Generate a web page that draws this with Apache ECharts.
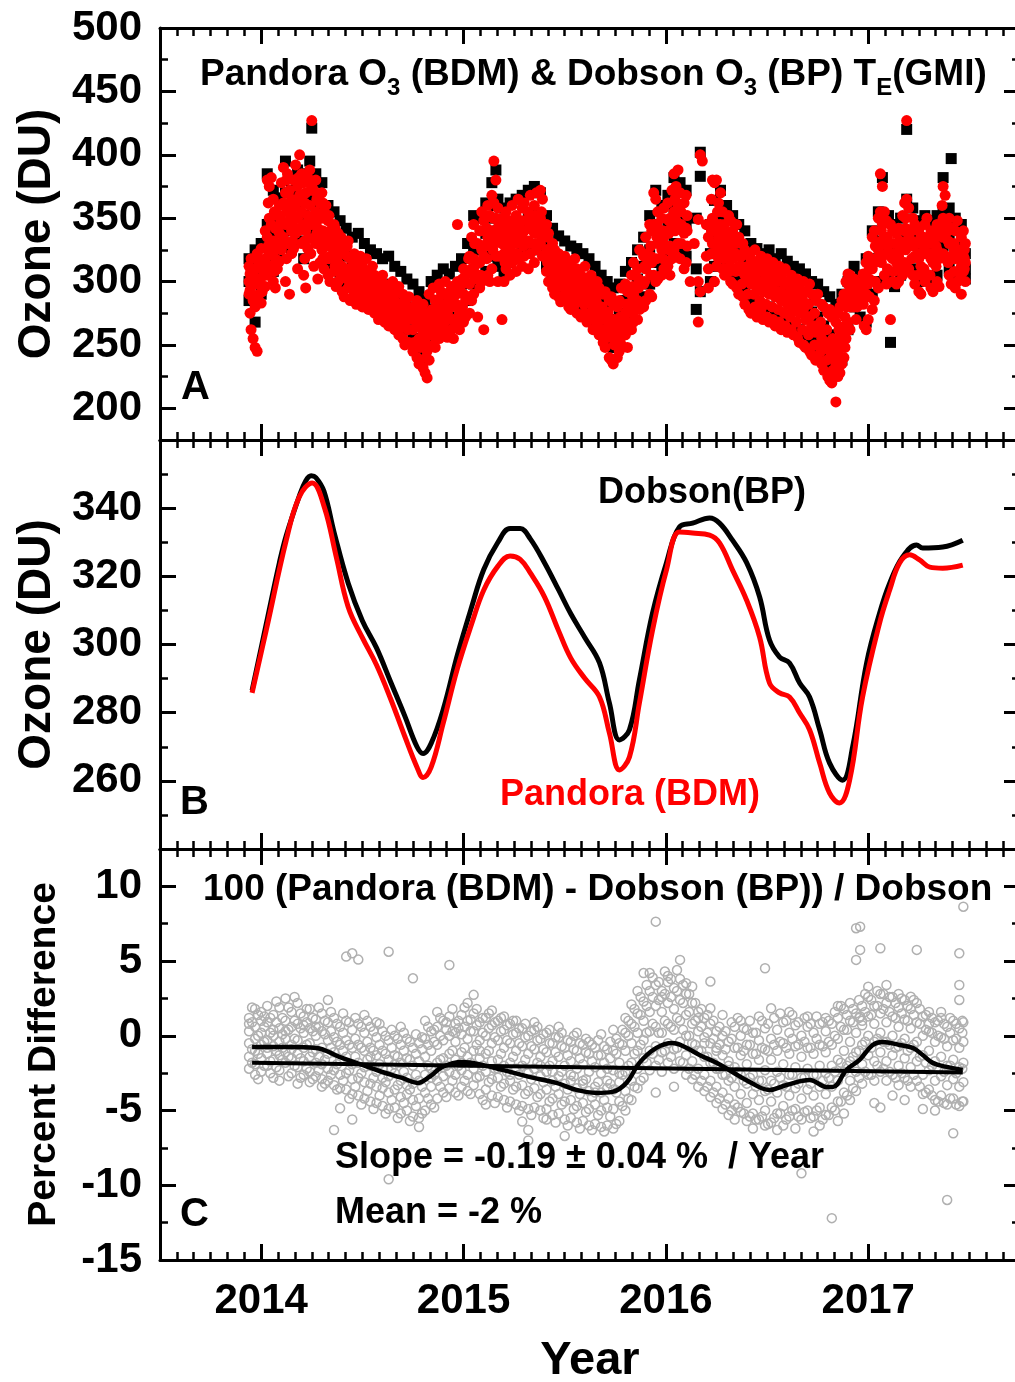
<!DOCTYPE html>
<html>
<head>
<meta charset="utf-8">
<script src="https://cdn.jsdelivr.net/npm/echarts@6/dist/echarts.min.js"></script>
<style>
  html, body { margin: 0; padding: 0; background: #fff; }
  #main { width: 1015px; height: 1382px; }
</style>
</head>
<body>
<div id="main"></div>
<script>
// x axis ticks (years)
var yearTicks = [2014, 2015, 2016, 2017];

// panel A: daily O3, [year, values...]
var pandoraRows = [
  [2013.94, 300, 312, 290], [2013.95, 318, 296, 262], [2013.96, 305, 285, 255], [2013.97, 310, 280, 248],
  [2013.98, 322, 298, 245], [2013.99, 315, 290], [2014.00, 326, 303, 283], [2014.02, 340, 318, 296],
  [2014.03, 380, 335, 305], [2014.04, 375, 350, 322], [2014.05, 382, 345, 312], [2014.06, 365, 332, 300],
  [2014.07, 342, 318, 295], [2014.08, 352, 330, 310], [2014.09, 360, 338, 316], [2014.10, 378, 348, 325],
  [2014.11, 390, 362, 335], [2014.12, 370, 345, 300], [2014.13, 385, 355, 330], [2014.14, 372, 348, 290],
  [2014.15, 365, 340, 322], [2014.16, 380, 352, 326], [2014.17, 392, 360, 338], [2014.18, 375, 350, 310],
  [2014.19, 400, 368, 342], [2014.20, 385, 355, 330], [2014.21, 378, 345, 305], [2014.22, 370, 340, 295],
  [2014.23, 382, 352, 326], [2014.24, 388, 360, 334], [2014.25, 427, 375, 345], [2014.26, 372, 348, 312],
  [2014.27, 380, 355, 330], [2014.28, 368, 342, 302], [2014.29, 362, 336, 315], [2014.30, 370, 350, 325],
  [2014.31, 355, 332, 310], [2014.32, 360, 338, 318], [2014.33, 348, 328, 305], [2014.34, 340, 320, 300],
  [2014.36, 345, 325, 308], [2014.37, 335, 318, 296], [2014.38, 338, 315, 300], [2014.40, 330, 312, 292],
  [2014.41, 325, 305, 288], [2014.43, 332, 310, 295], [2014.44, 318, 300, 285], [2014.46, 322, 305, 290],
  [2014.47, 315, 298, 282], [2014.49, 320, 300, 286], [2014.50, 312, 295, 280], [2014.52, 318, 298, 283],
  [2014.53, 308, 292, 278], [2014.55, 312, 295, 280], [2014.56, 305, 288, 275], [2014.58, 300, 285, 270],
  [2014.60, 305, 290, 276], [2014.61, 298, 282, 268], [2014.63, 295, 280, 265], [2014.65, 300, 283, 268],
  [2014.66, 290, 275, 262], [2014.68, 296, 278, 258], [2014.70, 290, 272, 255], [2014.71, 285, 268, 250],
  [2014.73, 288, 270, 252], [2014.75, 280, 262, 245], [2014.77, 285, 265, 240], [2014.78, 278, 255, 235],
  [2014.80, 282, 260, 232], [2014.81, 275, 250, 228], [2014.82, 270, 245, 224], [2014.83, 290, 265, 238],
  [2014.85, 295, 272, 250], [2014.86, 285, 262, 248], [2014.88, 298, 278, 255], [2014.89, 292, 270, 258],
  [2014.91, 300, 282, 262], [2014.92, 290, 275, 256], [2014.94, 296, 280, 262], [2014.95, 288, 270, 255],
  [2014.97, 345, 300, 280], [2014.98, 295, 275, 262], [2015.00, 310, 290, 268], [2015.01, 305, 285, 272],
  [2015.03, 320, 298, 275], [2015.04, 335, 310, 285], [2015.05, 345, 318, 290], [2015.07, 330, 305, 272],
  [2015.08, 340, 315, 295], [2015.09, 355, 325, 300], [2015.10, 348, 320, 262], [2015.12, 360, 335, 305],
  [2015.13, 352, 328, 300], [2015.14, 368, 340, 310], [2015.15, 395, 362, 330], [2015.16, 380, 350, 320],
  [2015.17, 358, 332, 300], [2015.19, 350, 330, 270], [2015.20, 345, 322, 300], [2015.21, 355, 335, 310],
  [2015.23, 348, 325, 305], [2015.24, 360, 338, 315], [2015.26, 352, 330, 308], [2015.27, 365, 340, 318],
  [2015.29, 358, 335, 312], [2015.30, 362, 340, 320], [2015.32, 355, 332, 310], [2015.33, 368, 345, 322],
  [2015.35, 360, 338, 315], [2015.36, 370, 348, 325], [2015.38, 372, 350, 330], [2015.39, 365, 342, 320],
  [2015.41, 345, 325, 308], [2015.42, 338, 318, 300], [2015.44, 330, 312, 295], [2015.45, 325, 308, 290],
  [2015.47, 322, 305, 288], [2015.48, 318, 300, 284], [2015.50, 320, 302, 285], [2015.52, 315, 298, 280],
  [2015.53, 312, 295, 278], [2015.55, 318, 298, 282], [2015.56, 310, 292, 275], [2015.58, 305, 288, 272],
  [2015.60, 312, 292, 275], [2015.61, 300, 285, 268], [2015.63, 305, 286, 270], [2015.64, 298, 280, 262],
  [2015.66, 300, 282, 265], [2015.67, 295, 275, 258], [2015.69, 290, 270, 252], [2015.70, 292, 272, 248],
  [2015.72, 285, 265, 240], [2015.73, 288, 262, 238], [2015.74, 282, 258, 235], [2015.76, 280, 255, 240],
  [2015.77, 285, 262, 245], [2015.78, 295, 270, 250], [2015.80, 298, 275, 258], [2015.81, 292, 268, 248],
  [2015.83, 305, 282, 262], [2015.84, 315, 290, 268], [2015.86, 310, 285, 270], [2015.87, 325, 300, 278],
  [2015.89, 320, 298, 280], [2015.90, 335, 310, 285], [2015.92, 345, 318, 290], [2015.93, 340, 315, 288],
  [2015.94, 370, 345, 305], [2015.95, 365, 338, 300], [2015.96, 355, 330, 302], [2015.98, 350, 325, 305],
  [2015.99, 358, 335, 310], [2016.01, 362, 340, 312], [2016.02, 350, 328, 305], [2016.03, 372, 345, 318],
  [2016.04, 385, 355, 325], [2016.05, 375, 348, 320], [2016.06, 388, 360, 330], [2016.07, 370, 345, 318],
  [2016.09, 362, 338, 310], [2016.10, 368, 342, 315], [2016.12, 300], [2016.14, 330],
  [2016.16, 349, 300, 268], [2016.17, 400, 292], [2016.18, 395], [2016.20, 345, 320],
  [2016.21, 335, 310, 295], [2016.23, 380, 350, 330], [2016.24, 378, 345, 300], [2016.25, 380, 340, 312],
  [2016.26, 362, 335, 318], [2016.27, 370, 345, 322], [2016.28, 355, 332, 310], [2016.29, 345, 325, 305],
  [2016.31, 352, 330, 308], [2016.32, 348, 322, 300], [2016.33, 340, 318, 298], [2016.35, 345, 320, 295],
  [2016.36, 335, 312, 290], [2016.38, 330, 308, 288], [2016.39, 325, 305, 282], [2016.41, 322, 300, 278],
  [2016.42, 318, 298, 275], [2016.44, 325, 302, 280], [2016.45, 315, 295, 272], [2016.47, 320, 298, 278],
  [2016.48, 312, 292, 270], [2016.50, 318, 295, 272], [2016.51, 310, 290, 268], [2016.53, 315, 292, 270],
  [2016.54, 308, 288, 265], [2016.56, 312, 290, 268], [2016.57, 305, 285, 262], [2016.59, 310, 288, 265],
  [2016.60, 300, 282, 260], [2016.62, 305, 285, 262], [2016.63, 298, 278, 258], [2016.65, 302, 280, 256],
  [2016.66, 295, 275, 252], [2016.68, 300, 278, 250], [2016.69, 292, 270, 248], [2016.71, 298, 272, 245],
  [2016.72, 290, 265, 242], [2016.74, 285, 260, 238], [2016.75, 290, 262, 240], [2016.77, 282, 255, 235],
  [2016.78, 280, 250, 230], [2016.80, 275, 248, 225], [2016.81, 278, 245, 222], [2016.82, 272, 240, 220],
  [2016.84, 268, 235, 205], [2016.85, 275, 245, 225], [2016.86, 280, 250, 228], [2016.87, 285, 258, 235],
  [2016.88, 290, 262, 240], [2016.89, 300, 280, 255], [2016.90, 306, 298, 268], [2016.91, 305, 295, 262],
  [2016.93, 302, 290, 280], [2016.94, 300, 285, 270], [2016.96, 296, 285], [2016.98, 300, 290, 265],
  [2016.99, 315, 290, 262], [2017.00, 320, 298, 270], [2017.02, 335, 310, 278], [2017.03, 340, 315, 285],
  [2017.05, 350, 325, 295], [2017.06, 385, 355, 330], [2017.07, 375, 345, 320], [2017.08, 355, 335, 305],
  [2017.09, 348, 322, 298], [2017.11, 345, 320, 270], [2017.12, 340, 318, 300], [2017.14, 338, 315, 298],
  [2017.15, 342, 320, 300], [2017.17, 352, 330, 305], [2017.18, 362, 340, 315], [2017.19, 427, 365, 330],
  [2017.20, 358, 335, 310], [2017.22, 350, 328, 305], [2017.23, 345, 320, 298], [2017.25, 340, 318, 292],
  [2017.26, 335, 312, 290], [2017.28, 345, 322, 300], [2017.29, 350, 330, 305], [2017.31, 340, 318, 295],
  [2017.32, 335, 315, 292], [2017.34, 345, 325, 300], [2017.35, 338, 318, 296], [2017.37, 375, 350, 322],
  [2017.38, 368, 345, 318], [2017.40, 350, 330, 305], [2017.41, 342, 320, 298], [2017.43, 340, 318, 295],
  [2017.44, 348, 325, 300], [2017.46, 335, 312, 290], [2017.47, 340, 320, 308], [2017.48, 330, 315, 300]
];
// more Pandora readings on the days in between
var pandoraExtra = [
  [2013.945, 306, 293, 275], [2013.975, 302, 318, 288], [2014.005, 310, 292, 315], [2014.035, 362, 328, 312],
  [2014.065, 355, 325, 308], [2014.095, 345, 328, 352], [2014.125, 380, 358, 318], [2014.155, 358, 332, 345],
  [2014.185, 382, 340, 365], [2014.215, 362, 332, 318], [2014.245, 372, 348, 322], [2014.275, 348, 365, 338],
  [2014.305, 340, 362, 318], [2014.335, 336, 318, 352], [2014.365, 330, 342, 312], [2014.395, 322, 305, 335],
  [2014.425, 320, 302, 328], [2014.455, 312, 295, 310], [2014.485, 308, 292, 314], [2014.515, 305, 290, 300],
  [2014.545, 302, 285, 296], [2014.575, 292, 278, 298], [2014.605, 295, 276, 288], [2014.635, 288, 272, 290],
  [2014.665, 284, 268, 280], [2014.695, 280, 264, 275], [2014.725, 276, 262, 280], [2014.755, 270, 252, 275],
  [2014.785, 268, 248, 272], [2014.815, 262, 240, 256], [2014.845, 278, 258, 268], [2014.875, 286, 265, 276],
  [2014.905, 290, 268, 280], [2014.935, 286, 270, 292], [2014.965, 290, 268, 282], [2014.995, 298, 280, 302],
  [2015.025, 308, 288, 318], [2015.055, 330, 302, 312], [2015.085, 328, 305, 340], [2015.115, 342, 318, 330],
  [2015.145, 350, 325, 338], [2015.175, 345, 320, 338], [2015.205, 338, 315, 328], [2015.235, 342, 318, 332],
  [2015.265, 345, 322, 335], [2015.295, 348, 328, 340], [2015.325, 350, 330, 342], [2015.355, 352, 330, 345],
  [2015.385, 355, 335, 345], [2015.415, 335, 315, 325], [2015.445, 320, 302, 315], [2015.475, 312, 296, 308],
  [2015.505, 310, 292, 305], [2015.535, 305, 288, 300], [2015.565, 302, 285, 298], [2015.595, 298, 282, 292],
  [2015.625, 292, 275, 288], [2015.655, 290, 272, 285], [2015.685, 280, 262, 275], [2015.715, 276, 256, 270],
  [2015.745, 270, 250, 265], [2015.775, 272, 255, 268], [2015.805, 282, 262, 276], [2015.835, 296, 275, 288],
  [2015.865, 302, 282, 295], [2015.895, 322, 300, 312], [2015.925, 328, 305, 320], [2015.955, 345, 318, 335],
  [2015.985, 340, 318, 330], [2016.015, 348, 325, 338], [2016.045, 365, 340, 352], [2016.075, 355, 330, 345],
  [2016.105, 352, 328, 340], [2016.225, 365, 340, 322], [2016.255, 355, 328, 345], [2016.285, 340, 318, 332],
  [2016.315, 335, 312, 325], [2016.345, 330, 308, 322], [2016.375, 320, 298, 312], [2016.405, 312, 290, 305],
  [2016.435, 310, 290, 302], [2016.465, 308, 285, 300], [2016.495, 305, 282, 298], [2016.525, 302, 280, 296],
  [2016.555, 300, 278, 292], [2016.585, 298, 275, 290], [2016.615, 292, 272, 285], [2016.645, 290, 268, 282],
  [2016.675, 286, 262, 278], [2016.705, 282, 258, 272], [2016.735, 275, 250, 265], [2016.765, 268, 245, 260],
  [2016.795, 262, 238, 252], [2016.825, 255, 230, 248], [2016.855, 262, 238, 255], [2016.885, 272, 248, 265],
  [2016.915, 292, 280, 286], [2016.945, 292, 280, 288], [2016.975, 306, 282, 295], [2017.005, 310, 288, 302],
  [2017.035, 328, 300, 318], [2017.065, 340, 315, 332], [2017.095, 335, 310, 328], [2017.125, 330, 308, 322],
  [2017.155, 332, 310, 325], [2017.185, 350, 325, 342], [2017.215, 340, 318, 332], [2017.245, 330, 305, 322],
  [2017.275, 335, 310, 328], [2017.305, 330, 305, 322], [2017.335, 335, 312, 328], [2017.365, 360, 335, 345],
  [2017.395, 340, 315, 332], [2017.425, 330, 308, 325], [2017.455, 325, 302, 318], [2017.475, 325, 310, 318]
];

var dobsonRows = [
  [2013.94, 318, 300, 285], [2013.97, 325, 305, 268], [2014.00, 330, 310, 290], [2014.03, 385, 345, 315],
  [2014.06, 372, 340, 308], [2014.09, 366, 345, 322], [2014.12, 395, 370, 340], [2014.15, 372, 350, 325],
  [2014.18, 388, 362, 332], [2014.21, 385, 352, 318], [2014.24, 395, 368, 340], [2014.25, 421],
  [2014.27, 385, 360, 338], [2014.30, 378, 356, 330], [2014.33, 360, 336, 312], [2014.36, 355, 332, 314],
  [2014.39, 348, 325, 306], [2014.42, 342, 320, 300], [2014.45, 335, 312, 296], [2014.48, 338, 315, 298],
  [2014.51, 330, 308, 292], [2014.54, 325, 305, 288], [2014.57, 322, 302, 285], [2014.60, 318, 298, 282],
  [2014.63, 320, 296, 278], [2014.66, 312, 290, 272], [2014.69, 308, 286, 266], [2014.72, 302, 280, 262],
  [2014.75, 298, 275, 255], [2014.78, 292, 268, 248], [2014.81, 285, 262, 240], [2014.84, 300, 278, 255],
  [2014.87, 305, 285, 262], [2014.90, 310, 290, 268], [2014.93, 306, 288, 268], [2014.96, 312, 295, 272],
  [2014.99, 318, 298, 278], [2015.02, 330, 308, 285], [2015.05, 352, 325, 298], [2015.08, 350, 325, 302],
  [2015.11, 362, 338, 308], [2015.14, 378, 350, 320], [2015.16, 388, 360], [2015.17, 365, 340, 312],
  [2015.20, 358, 332, 305], [2015.23, 362, 340, 315], [2015.26, 365, 345, 318], [2015.29, 368, 345, 322],
  [2015.32, 372, 350, 326], [2015.35, 375, 352, 328], [2015.38, 370, 348, 325], [2015.41, 352, 332, 312],
  [2015.44, 342, 322, 302], [2015.47, 336, 315, 295], [2015.50, 332, 310, 292], [2015.53, 328, 305, 288],
  [2015.56, 326, 302, 285], [2015.59, 322, 300, 282], [2015.62, 318, 296, 278], [2015.65, 312, 290, 270],
  [2015.68, 305, 282, 262], [2015.71, 300, 278, 255], [2015.74, 295, 270, 248], [2015.77, 298, 275, 252],
  [2015.80, 308, 285, 262], [2015.83, 315, 292, 270], [2015.86, 325, 302, 280], [2015.89, 335, 312, 288],
  [2015.92, 352, 325, 298], [2015.95, 372, 345, 315], [2015.98, 360, 335, 310], [2016.01, 368, 345, 318],
  [2016.04, 382, 358, 330], [2016.07, 378, 352, 325], [2016.10, 372, 346, 320], [2016.15, 350, 310, 278],
  [2016.17, 402, 383, 292], [2016.22, 345, 322, 300], [2016.24, 364, 338, 312], [2016.27, 372, 350, 328],
  [2016.30, 360, 338, 315], [2016.33, 352, 330, 306], [2016.36, 345, 322, 300], [2016.39, 340, 318, 295],
  [2016.42, 330, 308, 285], [2016.45, 326, 305, 282], [2016.48, 322, 300, 278], [2016.51, 325, 302, 280],
  [2016.54, 318, 296, 272], [2016.57, 322, 298, 275], [2016.60, 316, 294, 270], [2016.63, 312, 290, 266],
  [2016.66, 310, 286, 262], [2016.69, 306, 282, 258], [2016.72, 300, 276, 252], [2016.75, 298, 272, 248],
  [2016.78, 292, 265, 240], [2016.81, 288, 258, 232], [2016.84, 282, 250, 228], [2016.87, 290, 262, 238],
  [2016.90, 300, 282, 262], [2016.93, 312, 296, 280], [2016.96, 305, 290, 272], [2016.99, 318, 296, 268],
  [2017.02, 340, 318, 290], [2017.05, 355, 332, 300], [2017.07, 382, 350, 325], [2017.10, 352, 328, 302],
  [2017.11, 252], [2017.13, 345, 322, 296], [2017.16, 350, 328, 305], [2017.19, 420, 365, 335],
  [2017.22, 358, 335, 310], [2017.25, 348, 325, 300], [2017.28, 352, 330, 305], [2017.31, 348, 325, 300],
  [2017.34, 352, 330, 305], [2017.37, 382, 355, 328], [2017.40, 358, 335, 310], [2017.41, 397],
  [2017.43, 350, 328, 305], [2017.46, 345, 322, 302], [2017.48, 322, 310, 302]
];

// panel B: smoothed O3
var dobsonSmooth = [
  [2013.955, 286.5], [2014.025, 306], [2014.09, 324], [2014.124, 332], [2014.188, 343.5], [2014.22, 348],
  [2014.247, 349.5], [2014.27, 349], [2014.31, 345], [2014.36, 333], [2014.43, 318], [2014.5, 307],
  [2014.57, 299], [2014.64, 289], [2014.71, 279], [2014.77, 270], [2014.8, 268], [2014.84, 271],
  [2014.9, 281], [2014.97, 297], [2015.04, 311], [2015.1, 322], [2015.17, 330], [2015.23, 334],
  [2015.28, 334], [2015.33, 331], [2015.4, 324], [2015.47, 316], [2015.53, 309], [2015.6, 302],
  [2015.672, 294.6], [2015.721, 282.8], [2015.771, 272], [2015.82, 275], [2015.869, 289.6], [2015.934, 309.2],
  [2016.003, 324], [2016.067, 334.5], [2016.132, 335.6], [2016.216, 337.1], [2016.265, 335.6], [2016.329, 330.6],
  [2016.399, 324], [2016.463, 314], [2016.512, 301.3], [2016.562, 296.3], [2016.611, 294.6], [2016.661, 288.7],
  [2016.71, 284.6], [2016.76, 275], [2016.809, 265.2], [2016.873, 260.2], [2016.923, 270], [2016.992, 294.6],
  [2017.056, 309.2], [2017.106, 318], [2017.17, 325.7], [2017.239, 329.2], [2017.269, 328.3], [2017.368, 328.6],
  [2017.467, 330.6]
];
var pandoraSmooth = [
  [2013.955, 285.8], [2014.025, 304.2], [2014.124, 330.6], [2014.188, 343.3], [2014.252, 347.4], [2014.312, 340.3],
  [2014.371, 325.7], [2014.43, 311], [2014.5, 302], [2014.57, 294], [2014.64, 284], [2014.71, 273],
  [2014.77, 264], [2014.8, 261], [2014.84, 264], [2014.9, 277], [2014.97, 293], [2015.04, 306],
  [2015.1, 316], [2015.17, 323], [2015.23, 326], [2015.28, 325], [2015.33, 321], [2015.4, 314],
  [2015.47, 304], [2015.53, 296], [2015.6, 290], [2015.672, 284.6], [2015.721, 274], [2015.771, 263.2],
  [2015.82, 267], [2015.869, 282.8], [2015.934, 304.2], [2016.003, 321.9], [2016.067, 333], [2016.132, 332.7],
  [2016.216, 332.1], [2016.265, 329.8], [2016.329, 321.9], [2016.399, 313], [2016.463, 302.2], [2016.512, 288.7],
  [2016.562, 285.8], [2016.611, 284.6], [2016.661, 279.9], [2016.71, 275], [2016.76, 265.2], [2016.809, 256.4],
  [2016.858, 253.5], [2016.908, 260.2], [2016.972, 284.6], [2017.056, 306.3], [2017.106, 316], [2017.155, 323.9],
  [2017.205, 326.3], [2017.254, 324.8], [2017.304, 322.7], [2017.368, 322.4], [2017.467, 323.3]
];

// panel C: percent difference, [year, values...]
var pctRows = [
  [2013.94, 1.2, 0.3, -0.5, -1.4, -2.2, 0.8], [2013.97, 1.8, 0.6, -0.2, -1.0, -1.9, -2.6],
  [2014.00, 1.0, 0.2, -0.6, -1.5, -2.4, 1.6], [2014.03, 2.0, 0.9, -0.3, -1.2, -2.0, -0.8],
  [2014.06, 1.4, 0.4, -0.7, -1.6, -2.8, 0.0], [2014.09, 1.9, 0.5, -0.4, -1.3, -2.3, -3.0],
  [2014.12, 2.5, 1.0, -0.2, -1.1, -1.8, 0.3], [2014.15, 1.6, 0.6, -0.6, -1.5, -2.5, -0.9],
  [2014.18, 2.2, 0.8, -0.3, -1.2, -2.1, -3.2], [2014.21, 1.3, 0.2, -0.8, -1.7, -2.6, 0.7],
  [2014.24, 1.8, 0.5, -0.5, -1.4, -2.4, -3.1], [2014.27, 1.1, 0.0, -0.9, -1.8, -2.7, 0.6],
  [2014.30, 1.5, 0.3, -0.8, -1.9, -2.9, -3.4], [2014.33, 0.9, -0.3, -1.2, -2.2, -3.0, 2.4],
  [2014.36, 1.2, -0.1, -1.1, -2.3, -3.3, -6.3], [2014.39, 0.6, -0.6, -1.6, -2.6, -3.5, -4.85],
  [2014.42, 1.0, -0.3, -1.4, -2.5, -3.6, 5.3], [2014.45, 0.4, -0.8, -1.9, -2.9, -3.9, 5.52, -5.6],
  [2014.48, 0.8, -0.6, -1.8, -2.8, -4.0, 5.1], [2014.51, 0.2, -1.0, -2.1, -3.1, -4.2, 1.4],
  [2014.54, 0.6, -0.8, -2.0, -3.2, -4.4, -1.4], [2014.57, -0.1, -1.3, -2.4, -3.4, -4.5, 0.9],
  [2014.60, 0.3, -1.0, -2.2, -3.5, -4.7, -2.8], [2014.63, -0.3, -1.6, -2.7, -3.8, -4.9, 5.63, -9.6],
  [2014.66, 0.0, -1.3, -2.5, -3.6, -4.8, -1.9], [2014.69, -0.6, -1.8, -3.0, -4.1, -5.2, 0.6],
  [2014.72, -0.2, -1.5, -2.8, -3.9, -5.0, -3.3], [2014.75, -0.8, -2.0, -3.2, -4.3, -5.4, 3.85],
  [2014.78, -0.5, -1.7, -3.0, -4.2, -5.5, -6.1], [2014.81, -0.2, -1.4, -2.6, -3.8, -5.0, 1.0],
  [2014.84, 0.3, -1.0, -2.2, -3.4, -4.6, -2.8], [2014.87, 0.6, -0.6, -1.8, -3.0, -4.2, 1.6],
  [2014.90, 1.0, -0.3, -1.5, -2.7, -3.8, -2.1], [2014.93, 1.3, 0.0, -1.2, -2.4, -3.5, 4.74],
  [2014.96, 0.8, -0.4, -1.6, -2.6, -3.8, 0.2], [2014.99, 1.4, 0.1, -1.1, -2.3, -3.4, -1.8],
  [2015.02, 1.0, -0.2, -1.4, -2.6, -3.7, 2.2], [2015.05, 1.5, 0.3, -1.0, -2.2, -3.3, 2.74],
  [2015.08, 0.9, -0.3, -1.5, -2.7, -3.9, -1.0], [2015.11, 1.2, 0.0, -1.2, -2.4, -3.6, -4.6],
  [2015.14, 0.7, -0.5, -1.7, -2.9, -4.0, 1.7], [2015.17, 1.0, -0.3, -1.6, -2.8, -4.1, -2.2],
  [2015.20, 0.4, -0.8, -2.0, -3.2, -4.3, 1.3], [2015.23, 0.8, -0.5, -1.8, -3.0, -4.4, -2.6],
  [2015.26, 0.2, -1.0, -2.2, -3.4, -4.6, 1.0], [2015.29, 0.5, -0.7, -2.0, -3.3, -4.7, -5.74],
  [2015.32, 0.0, -1.2, -2.5, -3.7, -4.9, -6.3, -7.0], [2015.35, 0.4, -0.9, -2.2, -3.5, -4.8, 0.9],
  [2015.38, -0.2, -1.4, -2.7, -3.9, -5.0, -2.0], [2015.41, 0.2, -1.1, -2.4, -3.6, -4.9, -5.6],
  [2015.44, -0.5, -1.7, -3.0, -4.2, -5.3, -2.4], [2015.47, -0.1, -1.4, -2.7, -3.9, -5.2, 0.6],
  [2015.50, -0.8, -2.0, -3.2, -4.4, -5.6, -6.7], [2015.53, -0.4, -1.7, -3.0, -4.3, -5.5, -2.6],
  [2015.56, -1.0, -2.2, -3.5, -4.7, -5.8, 0.2], [2015.59, -0.6, -1.9, -3.2, -4.5, -5.7, -3.0],
  [2015.62, -1.2, -2.4, -3.7, -4.9, -6.0, -0.4], [2015.65, -0.8, -2.1, -3.4, -4.6, -5.9, -3.8],
  [2015.68, -1.3, -2.5, -3.8, -5.0, -6.1, 0.1], [2015.71, -0.9, -2.2, -3.5, -4.8, -6.0, -3.0],
  [2015.74, -1.0, -2.3, -3.6, -4.9, -6.2, 0.4], [2015.77, -0.5, -1.8, -3.1, -4.4, -5.7, -2.5],
  [2015.80, 0.2, -1.0, -2.4, -3.7, -5.0, 1.2], [2015.83, 0.8, -0.5, -1.8, -3.0, -4.3, 2.1],
  [2015.86, 1.5, 0.2, -1.0, -2.2, -3.5, 3.0], [2015.89, 2.3, 1.0, -0.3, -1.5, -2.8, 4.2],
  [2015.92, 3.0, 1.6, 0.3, -1.0, -2.3, 4.2], [2015.95, 3.4, 2.0, 0.6, -0.7, -2.0, 7.64, -3.8],
  [2015.98, 3.0, 1.6, 0.2, -1.1, -2.4, 2.6], [2016.01, 3.6, 2.2, 0.8, -0.5, -1.8, 4.0],
  [2016.04, 3.2, 1.8, 0.4, -0.9, -2.2, -3.4], [2016.07, 3.8, 2.4, 1.0, -0.4, -1.7, 5.08],
  [2016.10, 2.8, 1.4, 0.0, -1.3, -2.6, 3.52], [2016.13, 2.2, 0.8, -0.5, -1.7, -2.9, 3.3],
  [2016.16, 1.6, 0.3, -1.0, -2.2, -3.4, 1.2], [2016.19, 1.2, -0.1, -1.4, -2.6, -3.7, -0.5],
  [2016.22, 0.8, -0.5, -1.8, -3.0, -4.1, 3.63, 1.84], [2016.25, 0.3, -1.0, -2.2, -3.4, -4.5, -0.8],
  [2016.28, 0.0, -1.3, -2.6, -3.8, -4.9, 1.4], [2016.31, -0.4, -1.7, -3.0, -4.2, -5.3, -2.0],
  [2016.34, 0.6, -0.8, -2.1, -3.4, -4.6, -5.6], [2016.37, 0.0, -1.3, -2.6, -3.9, -5.1, 1.0],
  [2016.40, -0.6, -1.9, -3.2, -4.5, -5.7, 0.4], [2016.43, 0.2, -1.2, -2.6, -3.9, -5.2, -6.2],
  [2016.46, -0.3, -1.6, -3.0, -4.3, -5.6, 1.3], [2016.49, 0.5, -0.9, -2.3, -3.7, -5.0, 4.52, -6.0],
  [2016.52, -0.2, -1.6, -3.0, -4.4, -5.8, 1.84], [2016.55, 0.4, -1.0, -2.4, -3.8, -5.2, -6.3],
  [2016.58, 0.9, -0.5, -1.9, -3.3, -4.7, -6.0], [2016.61, 0.2, -1.2, -2.6, -4.0, -5.4, 1.6],
  [2016.64, 0.7, -0.7, -2.1, -3.5, -4.9, -6.2], [2016.67, 0.0, -1.4, -2.8, -4.2, -5.6, -9.2],
  [2016.70, 0.6, -0.8, -2.2, -3.6, -5.0, 1.3], [2016.73, 0.2, -1.2, -2.6, -4.0, -5.4, -6.4],
  [2016.76, 0.8, -0.6, -2.0, -3.4, -4.8, -6.0], [2016.79, 0.3, -1.1, -2.5, -3.9, -5.3, 1.2],
  [2016.82, 0.8, -0.6, -2.0, -3.4, -4.8, -12.2], [2016.85, 1.2, -0.2, -1.6, -3.0, -4.4, -5.7, 2.0],
  [2016.88, 1.8, 0.4, -1.0, -2.4, -3.8, -5.2], [2016.91, 1.0, -0.4, -1.7, -3.0, -4.3, 2.2],
  [2016.94, 1.5, 0.2, -1.1, -2.4, -3.7, 7.2, 5.08], [2016.96, 7.3, 5.75, 1.29],
  [2016.97, 2.0, 0.7, -0.6, -1.9, -3.2, 1.0], [2017.00, 2.6, 1.3, 0.0, -1.3, -2.6, 3.29],
  [2017.03, 2.0, 0.8, -0.4, -1.7, -3.0, -4.5], [2017.06, 2.8, 1.5, 0.2, -1.1, -2.4, 5.86, -4.8],
  [2017.09, 2.2, 0.9, -0.4, -1.7, -3.0, 3.4], [2017.12, 2.6, 1.3, 0.0, -1.3, -2.6, -4.0],
  [2017.15, 1.9, 0.6, -0.7, -2.0, -3.3, 2.8], [2017.18, 2.4, 1.1, -0.2, -1.5, -2.8, -4.3],
  [2017.21, 1.8, 0.5, -0.8, -2.1, -3.4, 2.62], [2017.24, 2.2, 0.9, -0.4, -1.7, -3.0, 5.75],
  [2017.27, 1.3, 0.0, -1.3, -2.6, -3.9, -4.9], [2017.30, 1.6, 0.3, -1.0, -2.3, -3.6, 0.8],
  [2017.33, 0.9, -0.4, -1.7, -3.0, -4.3, -5.0], [2017.36, 1.2, -0.1, -1.4, -2.7, -4.0, 1.6],
  [2017.39, 0.6, -0.7, -2.0, -3.3, -4.6, -10.98], [2017.42, 1.0, -0.3, -1.6, -2.9, -4.2, -6.52],
  [2017.45, 0.5, -0.8, -2.1, -3.4, -4.7, 5.52, 3.4, 2.4], [2017.47, 0.9, -0.4, -1.8, -3.1, -4.4, 8.64]
];
var pctExtra = [
  [2013.955, 0.9, -0.9, -1.8, 1.9], [2013.985, 0.0, -1.2, 1.4, -2.9], [2014.015, 1.3, -0.4, -2.0, 0.6],
  [2014.045, 0.2, -1.7, 1.2, -2.5], [2014.075, 0.9, -1.0, -2.1, 2.3], [2014.105, 1.2, -0.8, -1.6, 0.1],
  [2014.135, 0.4, -1.4, 1.9, -2.7], [2014.165, 1.0, -0.2, -2.0, 2.6], [2014.195, 0.5, -1.5, 1.5, -2.8],
  [2014.225, 0.9, -0.6, -2.2, 1.8], [2014.255, 0.3, -1.1, 1.2, -2.9], [2014.285, 0.6, -1.4, -2.3, 1.9],
  [2014.315, 0.1, -1.6, 1.0, -3.2], [2014.345, 0.3, -0.8, -2.6, 1.6], [2014.375, -0.4, -1.9, 0.8, -3.6],
  [2014.405, 0.2, -1.0, -3.0, 1.5], [2014.435, -0.6, -2.3, 0.9, -4.2], [2014.465, -0.2, -1.4, -3.4, 1.2],
  [2014.495, -0.8, -2.5, 0.6, -4.6], [2014.525, -0.4, -1.6, -3.7, 1.0], [2014.555, -1.0, -2.8, 0.3, -4.9],
  [2014.585, -0.6, -1.9, -4.0, 0.8], [2014.615, -1.2, -3.1, 0.0, -5.2], [2014.645, -0.8, -2.2, -4.3, 0.4],
  [2014.675, -1.4, -3.3, -0.2, -5.5], [2014.705, -1.0, -2.4, -4.5, 0.2], [2014.735, -1.6, -3.6, -0.4, -5.7],
  [2014.765, -1.2, -2.6, -4.7, 0.1], [2014.795, -0.9, -3.4, -0.1, -5.2], [2014.825, -0.6, -2.0, -4.2, 0.6],
  [2014.855, -0.4, -2.6, 0.4, -4.8], [2014.885, 0.0, -1.6, -3.4, 1.2], [2014.915, 0.4, -2.0, 0.9, -4.1],
  [2014.945, 0.3, -1.0, -3.0, 1.8], [2014.975, 0.5, -2.0, 1.0, -4.0], [2015.005, 0.6, -0.8, -3.0, 1.9],
  [2015.035, 0.3, -1.8, 1.1, -3.9], [2015.065, 0.7, -0.6, -2.8, 1.8], [2015.095, 0.2, -2.0, 1.2, -4.3],
  [2015.125, 0.5, -1.0, -3.1, 1.5], [2015.155, -0.1, -2.2, 0.9, -4.5], [2015.185, 0.3, -1.2, -3.4, 1.2],
  [2015.215, -0.3, -2.4, 0.7, -4.8], [2015.245, 0.1, -1.4, -3.6, 1.0], [2015.275, -0.5, -2.6, 0.5, -5.0],
  [2015.305, -0.1, -1.6, -3.9, 0.8], [2015.335, -0.7, -2.9, 0.3, -5.3], [2015.365, -0.3, -1.8, -4.1, 0.6],
  [2015.395, -0.9, -3.1, 0.1, -5.5], [2015.425, -0.5, -2.0, -4.4, 0.4], [2015.455, -1.1, -3.4, -0.1, -5.8],
  [2015.485, -0.7, -2.4, -4.6, 0.2], [2015.515, -1.3, -3.6, -0.3, -6.0], [2015.545, -0.9, -2.7, -4.9, 0.0],
  [2015.575, -1.5, -3.9, -0.5, -6.2], [2015.605, -1.1, -2.9, -5.1, -0.2], [2015.635, -1.7, -4.1, -0.6, -6.3],
  [2015.665, -1.3, -3.1, -5.3, -0.3], [2015.695, -1.8, -4.3, -0.7, -6.4], [2015.725, -1.5, -3.2, -5.4, -0.4],
  [2015.755, -1.2, -3.8, -0.2, -5.9], [2015.785, -0.6, -2.6, -4.7, 0.4], [2015.815, 0.0, -2.0, 1.0, -4.2],
  [2015.845, 0.6, -1.2, -3.4, 1.8], [2015.875, 1.4, -0.6, 2.6, -3.0], [2015.905, 2.0, 0.2, -1.8, 3.4],
  [2015.935, 2.6, 0.8, -1.2, 3.9], [2015.965, 2.4, 0.2, -1.6, 3.6], [2015.995, 2.8, 1.0, -1.0, 4.3],
  [2016.025, 2.6, 0.6, -1.4, 3.8], [2016.055, 3.0, 1.2, -0.8, 4.4], [2016.085, 2.2, 0.4, -1.8, 3.4],
  [2016.115, 1.6, 0.0, -2.2, 2.8], [2016.145, 1.0, -0.6, -2.6, 2.2], [2016.175, 0.6, -1.0, -3.0, 1.8],
  [2016.205, 0.2, -1.4, -3.4, 1.4], [2016.235, -0.2, -1.8, -3.8, 1.0], [2016.265, -0.6, -2.2, -4.2, 0.6],
  [2016.295, -0.9, -2.6, -4.6, 0.3], [2016.325, -0.2, -2.8, -5.0, 0.9], [2016.355, -0.8, -2.4, -4.8, 1.2],
  [2016.385, -1.0, -3.0, -5.2, 0.5], [2016.415, -0.6, -2.8, -5.4, 1.0], [2016.445, -1.2, -3.4, -5.6, 0.2],
  [2016.475, -0.8, -3.0, -5.4, 1.0], [2016.505, -1.0, -3.6, -5.9, 0.8], [2016.535, -0.6, -3.2, -5.5, 1.2],
  [2016.565, -0.4, -2.8, -5.2, 1.5], [2016.595, -0.8, -3.4, -5.6, 1.0], [2016.625, -0.2, -2.6, -5.0, 1.4],
  [2016.655, -0.6, -3.2, -5.4, 0.9], [2016.685, -0.4, -2.8, -5.1, 1.2], [2016.715, -0.8, -3.2, -5.5, 0.8],
  [2016.745, -0.2, -2.6, -5.0, 1.3], [2016.775, -0.7, -3.0, -5.6, 0.9], [2016.805, -0.4, -2.8, -5.3, 1.0],
  [2016.835, 0.0, -2.4, -5.0, 1.6], [2016.865, 0.6, -1.8, -4.4, 2.0], [2016.895, 0.4, -2.0, -4.0, 1.4],
  [2016.925, 0.9, -1.4, -3.5, 1.8], [2016.955, 1.2, -1.0, -2.8, 2.4], [2016.985, 1.6, -0.4, -2.4, 2.8],
  [2017.015, 1.4, -0.8, -2.6, 2.4], [2017.045, 2.0, -0.2, -2.0, 3.0], [2017.075, 1.8, -0.4, -2.2, 2.8],
  [2017.105, 1.6, -0.6, -2.4, 2.6], [2017.135, 1.2, -0.8, -2.8, 2.2], [2017.165, 1.5, -0.5, -2.5, 2.5],
  [2017.195, 1.0, -1.0, -3.0, 2.0], [2017.225, 1.4, -0.6, -2.6, 2.4], [2017.255, 0.8, -1.4, -3.4, 1.8],
  [2017.285, 0.4, -1.8, -3.8, 1.4], [2017.315, 0.2, -2.0, -4.0, 1.2], [2017.345, 0.0, -2.2, -4.4, 1.0],
  [2017.375, -0.2, -2.4, -4.5, 0.8], [2017.405, 0.2, -2.0, -4.2, 1.2], [2017.435, -0.2, -2.5, -4.6, 0.8],
  [2017.465, 0.2, -2.2, -4.4, 1.0]
];
var pctSmooth = [
  [2013.955, -0.74], [2014.138, -0.74], [2014.272, -0.81], [2014.386, -1.41], [2014.5, -1.95], [2014.598, -2.42],
  [2014.697, -2.82], [2014.772, -3.15], [2014.831, -2.75], [2014.895, -2.08], [2014.994, -1.75], [2015.093, -1.95],
  [2015.192, -2.28], [2015.325, -2.75], [2015.459, -3.15], [2015.558, -3.62], [2015.657, -3.82], [2015.736, -3.75],
  [2015.805, -3.15], [2015.869, -1.81], [2015.953, -0.81], [2016.033, -0.48], [2016.102, -0.81], [2016.166, -1.28],
  [2016.25, -1.81], [2016.329, -2.42], [2016.413, -3.08], [2016.512, -3.62], [2016.596, -3.29], [2016.71, -2.95],
  [2016.794, -3.42], [2016.824, -3.42], [2016.893, -2.28], [2016.957, -1.61], [2017.022, -0.61], [2017.071, -0.41],
  [2017.155, -0.61], [2017.22, -0.81], [2017.269, -1.28], [2017.319, -1.81], [2017.388, -2.08], [2017.467, -2.28]
];
var pctFit = [[2013.955, -1.8], [2017.467, -2.45]];

var FONT = "'Liberation Sans', Arial, sans-serif";
var xMin = 2013.5, xMax = 2017.75;

function rowsToPoints(rows) {
    var pts = [];
    rows.forEach(function (r) {
        for (var i = 1; i < r.length; i++) pts.push([r[0], r[i]]);
    });
    return pts;
}

// monthly minor ticks
var monthTicks = [];
for (var k = 1; k < 51; k++) {
    if (k % 12 !== 6) monthTicks.push(+(xMin + k / 12).toFixed(4));
}

// fixed plot boxes, no auto shrinking for labels
var grids = [
    {left: 160, width: 860, top: 28, height: 412, outerBoundsMode: 'none'},
    {left: 160, width: 860, top: 440, height: 409, outerBoundsMode: 'none'},
    {left: 160, width: 860, top: 849, height: 411, outerBoundsMode: 'none'}
];

// y ranges and ticks per panel
var yCfg = [
    {min: 175, max: 500, major: [200, 250, 300, 350, 400, 450, 500], labels: [200, 250, 300, 350, 400, 450, 500],
        minor: [225, 275, 325, 375, 425, 475], name: 'Ozone (DU)', nameSize: 46, nameGap: 100},
    {min: 240, max: 360, major: [260, 280, 300, 320, 340], labels: [260, 280, 300, 320, 340],
        minor: [250, 270, 290, 310, 330, 350], name: 'Ozone (DU)', nameSize: 46, nameGap: 100},
    {min: -15, max: 12.5, major: [-15, -10, -5, 0, 5, 10], labels: [-15, -10, -5, 0, 5, 10],
        minor: [-12.5, -7.5, -2.5, 2.5, 7.5], name: 'Percent Difference', nameSize: 39, nameGap: 96}
];

var xAxes = [], yAxes = [];
grids.forEach(function (g, gi) {
    var last = gi === 2;
    ['bottom', 'top'].forEach(function (pos) {
        xAxes.push({
            type: 'value', gridIndex: gi, position: pos, min: xMin, max: xMax,
            axisLine: {show: true, onZero: false, lineStyle: {color: '#000', width: 3}},
            axisTick: {show: true, inside: true, length: 16, customValues: yearTicks,
                lineStyle: {color: '#000', width: 3}},
            axisLabel: (last && pos === 'bottom') ? {
                show: true, customValues: yearTicks, margin: 20, color: '#000',
                fontFamily: FONT, fontWeight: 'bold', fontSize: 42,
                formatter: function (v) { return String(v); }
            } : {show: false},
            name: (last && pos === 'bottom') ? 'Year' : '',
            nameLocation: 'middle', nameGap: 78,
            nameTextStyle: {fontFamily: FONT, fontWeight: 'bold', fontSize: 47, color: '#000'},
            splitLine: {show: false}
        });
        xAxes.push({
            type: 'value', gridIndex: gi, position: pos, min: xMin, max: xMax,
            axisLine: {show: false, onZero: false},
            axisTick: {show: true, inside: true, length: 8, customValues: monthTicks,
                lineStyle: {color: '#000', width: 2.5}},
            axisLabel: {show: false}, splitLine: {show: false}
        });
    });
    var c = yCfg[gi];
    ['left', 'right'].forEach(function (pos) {
        yAxes.push({
            type: 'value', gridIndex: gi, position: pos, min: c.min, max: c.max,
            axisLine: {show: true, onZero: false, lineStyle: {color: '#000', width: 3}},
            axisTick: {show: true, inside: true, length: 16, customValues: c.major,
                lineStyle: {color: '#000', width: 3}},
            axisLabel: pos === 'left' ? {
                show: true, customValues: c.labels, margin: 18, color: '#000',
                fontFamily: FONT, fontWeight: 'bold', fontSize: 42
            } : {show: false},
            name: pos === 'left' ? c.name : '',
            nameLocation: 'middle', nameGap: c.nameGap,
            nameTextStyle: {fontFamily: FONT, fontWeight: 'bold', fontSize: c.nameSize, color: '#000'},
            splitLine: {show: false}
        });
        yAxes.push({
            type: 'value', gridIndex: gi, position: pos, min: c.min, max: c.max,
            axisLine: {show: false, onZero: false},
            axisTick: {show: true, inside: true, length: 8, customValues: c.minor,
                lineStyle: {color: '#000', width: 2.5}},
            axisLabel: {show: false}, splitLine: {show: false}
        });
    });
});

function txt(x, y, s, size, color) {
    return {
        type: 'text', x: x, y: y, z: 100,
        style: {text: s, fill: color || '#000', font: 'bold ' + size + 'px ' + FONT,
            align: 'left', verticalAlign: 'middle', textAlign: 'left', textVerticalAlign: 'middle'}
    };
}

var chart = echarts.init(document.getElementById('main'));
var grayCircle = {color: 'rgba(0,0,0,0)', borderColor: '#b0b0b0', borderWidth: 1.5, opacity: 1};
var option = {
    animation: false,
    backgroundColor: '#fff',
    grid: grids,
    xAxis: xAxes,
    yAxis: yAxes,
    series: [
        {
            name: 'Dobson O3', type: 'scatter', xAxisIndex: 0, yAxisIndex: 0,
            symbol: 'rect', symbolSize: 11, itemStyle: {color: '#000', opacity: 1},
            data: rowsToPoints(dobsonRows)
        },
        {
            name: 'Pandora O3', type: 'scatter', xAxisIndex: 0, yAxisIndex: 0,
            symbol: 'circle', symbolSize: 11, itemStyle: {color: '#ff0000', opacity: 1},
            data: rowsToPoints(pandoraRows).concat(rowsToPoints(pandoraExtra))
        },
        {
            name: 'Dobson(BP)', type: 'line', xAxisIndex: 4, yAxisIndex: 4,
            showSymbol: false, smooth: 0.4, lineStyle: {color: '#000', width: 5},
            data: dobsonSmooth
        },
        {
            name: 'Pandora (BDM)', type: 'line', xAxisIndex: 4, yAxisIndex: 4,
            showSymbol: false, smooth: 0.4, lineStyle: {color: '#ff0000', width: 5},
            data: pandoraSmooth
        },
        {
            name: 'Percent Difference', type: 'scatter', xAxisIndex: 8, yAxisIndex: 8,
            symbol: 'circle', symbolSize: 9, itemStyle: grayCircle,
            data: rowsToPoints(pctRows).concat(rowsToPoints(pctExtra))
        },
        {
            name: 'Fit', type: 'line', xAxisIndex: 8, yAxisIndex: 8,
            showSymbol: false, lineStyle: {color: '#000', width: 4},
            data: pctFit
        },
        {
            name: 'Smooth', type: 'line', xAxisIndex: 8, yAxisIndex: 8,
            showSymbol: false, smooth: 0.4, lineStyle: {color: '#000', width: 4.5},
            data: pctSmooth
        }
    ],
    graphic: [
        {
            type: 'text', x: 200, y: 50, z: 100,
            style: {
                text: '{m|Pandora O}{s|3}{m| (BDM) & Dobson O}{s|3}{m| (BP) T}{s|E}{m|(GMI)}',
                rich: {
                    m: {fontFamily: FONT, fontWeight: 'bold', fontSize: 37, lineHeight: 50, color: '#000'},
                    s: {fontFamily: FONT, fontWeight: 'bold', fontSize: 24, lineHeight: 24,
                        verticalAlign: 'bottom', color: '#000'}
                }
            }
        },
        txt(181, 388, 'A', 40),
        txt(598, 493, 'Dobson(BP)', 36),
        txt(500, 795, 'Pandora (BDM)', 36, '#ff0000'),
        txt(180, 803, 'B', 40),
        txt(203, 890, '100 (Pandora (BDM) - Dobson (BP)) / Dobson', 37),
        txt(335, 1158, 'Slope = -0.19 \u00b1 0.04 %  / Year', 36),
        txt(335, 1213, 'Mean = -2 %', 36),
        txt(180, 1215, 'C', 40)
    ]
};
chart.setOption(option);
</script>
</body>
</html>
